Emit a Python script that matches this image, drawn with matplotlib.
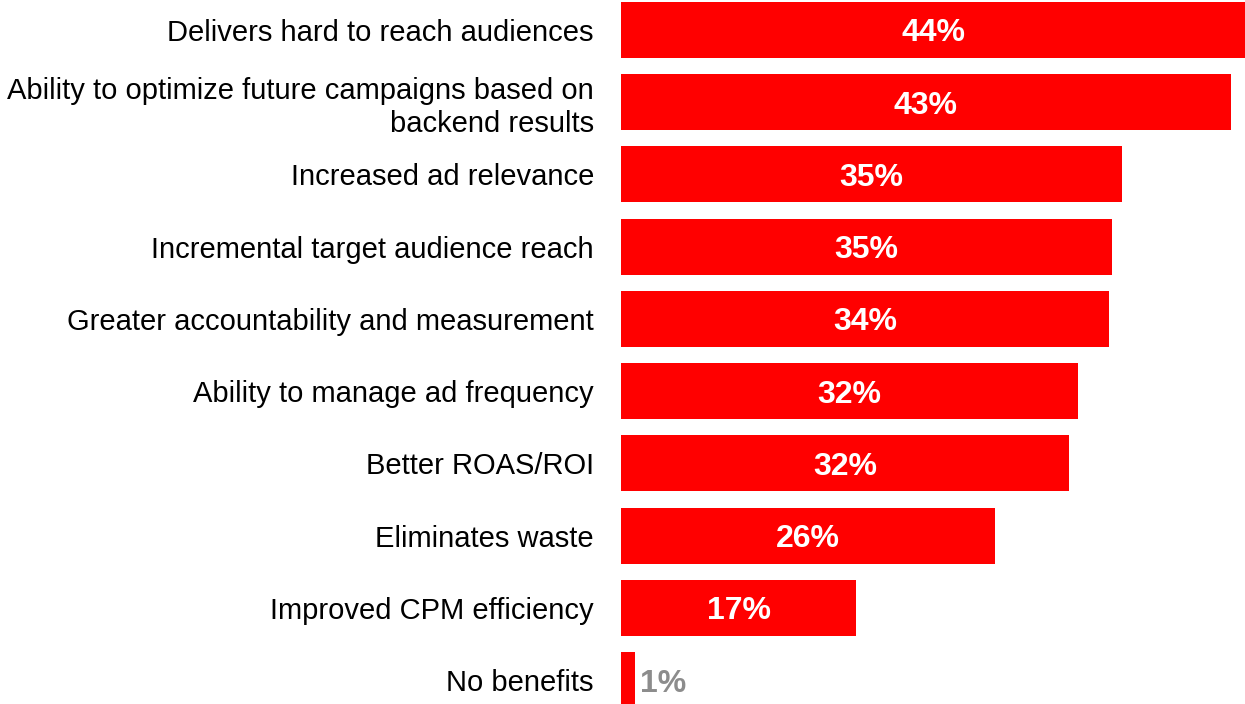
import matplotlib
matplotlib.use("Agg")
from matplotlib import pyplot as plt

# benefits, top to bottom
categories = [
    "Delivers hard to reach audiences",
    "Ability to optimize future campaigns based on\nbackend results",
    "Increased ad relevance",
    "Incremental target audience reach",
    "Greater accountability and measurement",
    "Ability to manage ad frequency",
    "Better ROAS/ROI",
    "Eliminates waste",
    "Improved CPM efficiency",
    "No benefits",
]
values = [44.0, 43.0, 35.3, 34.6, 34.4, 32.2, 31.6, 26.4, 16.6, 1.0]
valueLabels = ["44%", "43%", "35%", "35%", "34%", "32%", "32%", "26%", "17%", "1%"]

plt.rcParams['font.family'] = ['Liberation Sans', 'DejaVu Sans']

fig = plt.figure(figsize=(12.45, 7.04), dpi=100)
ax = fig.add_axes([621 / 1245, 0, 624 / 1245, 1])

ypos = list(range(len(categories)))
ax.barh(ypos, values, height=0.776, color='#ff0000')

ax.set_xlim(0, 44.0)
ax.set_ylim(9.33, -0.415)

for y, v, lab in zip(ypos, values, valueLabels):
    if v > 5:
        ax.text(v / 2, y, lab, ha='center', va='center_baseline', color='white',
                fontsize=23, fontweight='bold')
    else:
        ax.text(v + 0.35, y, lab, ha='left', va='center_baseline', color='#8c8c8c',
                fontsize=23, fontweight='bold')

ax.set_yticks(ypos)
ax.set_yticklabels(categories, fontsize=21, ha='right', linespacing=1.22)
ax.tick_params(axis='y', length=0, pad=19.5)
ax.set_xticks([])
for s in ax.spines.values():
    s.set_visible(False)

plt.savefig("out.png", dpi=100)
